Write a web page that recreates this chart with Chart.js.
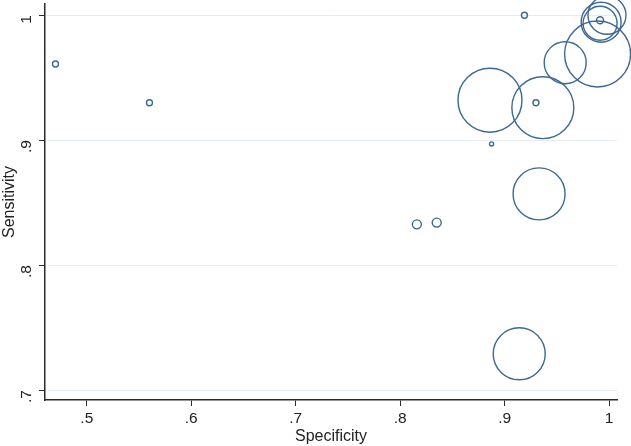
<!DOCTYPE html>
<html>
<head>
<meta charset="utf-8">
<script src="https://cdn.jsdelivr.net/npm/chart.js@4"></script>
<style>
  html, body { margin: 0; padding: 0; background: #fff; }
  #wrap { width: 631px; height: 446px; }
</style>
</head>
<body>
<div id="wrap"><canvas id="bubbles"></canvas></div>
<script>
'use strict';

// specificity / sensitivity per study, weight = study size (drives bubble area)
const specificity = [0.470, 0.560, 0.919, 0.930, 0.8875, 0.816, 0.835, 0.886, 0.9366, 0.958, 0.989, 0.933, 0.914, 0.9914, 0.9924, 0.9914, 0.998];
const sensitivity = [0.961, 0.930, 1.000, 0.930, 0.897, 0.8326, 0.834, 0.932, 0.926, 0.962, 0.969, 0.857, 0.729, 0.996, 0.9944, 0.9936, 1.000];
const weight = [3.5, 3.5, 3.5, 3.5, 1.6, 7.9, 7.9, 400, 375, 172, 425, 264, 264, 4.8, 156, 113, 141];

const xTicks = [0.5, 0.6, 0.7, 0.8, 0.9, 1];
const yTicks = [0.7, 0.8, 0.9, 1];

function stataLabel(v) {
    let s = String(Math.round(v * 10) / 10);
    return s.replace(/^0\./, '.');
}

let points = specificity.map(function(x, i) {
    return { x: x, y: sensitivity[i], w: weight[i] };
});

const navy = '#3b6894';
const axisColor = '#2b2b2b';
const tickFont = { family: "'Liberation Sans', Arial, sans-serif", size: 15.5 };
const titleFont = { family: "'Liberation Sans', Arial, sans-serif", size: 16 };

new Chart(document.getElementById('bubbles'), {
    type: 'bubble',
    data: {
        datasets: [{
            data: points,
            backgroundColor: 'rgba(0,0,0,0)',
            borderColor: navy,
            borderWidth: 1.4,
            clip: false,
            radius: function(ctx) {
                let p = ctx.raw;
                return p ? 1.6 * Math.sqrt(p.w) : 0;
            },
            hoverRadius: 0
        }]
    },
    options: {
        responsive: true,
        maintainAspectRatio: false,
        animation: false,
        events: [],
        layout: { autoPadding: false, padding: { top: 4, right: 14, left: 0, bottom: 0 } },
        plugins: { legend: { display: false }, tooltip: { enabled: false } },
        scales: {
            x: {
                type: 'linear',
                min: 0.46,
                max: 1.0076,
                afterBuildTicks: function(scale) {
                    scale.ticks = xTicks.map(function(v) { return { value: v }; });
                },
                afterFit: function(scale) {
                    scale.height = 46;
                    scale.paddingLeft = 0;
                    scale.paddingRight = 0;
                },
                grid: { drawOnChartArea: false, drawTicks: true, tickLength: 6, color: axisColor, lineWidth: 1 },
                border: { display: true, color: axisColor, width: 1.5 },
                ticks: {
                    color: '#222',
                    font: tickFont,
                    padding: 3,
                    maxRotation: 0,
                    autoSkip: false,
                    callback: function(v) { return stataLabel(v); }
                },
                title: {
                    display: true,
                    text: 'Specificity',
                    color: '#222',
                    font: titleFont,
                    padding: { top: -2, bottom: 0 }
                }
            },
            y: {
                type: 'linear',
                min: 0.692,
                max: 1.009,
                afterBuildTicks: function(scale) {
                    scale.ticks = yTicks.map(function(v) { return { value: v }; });
                },
                afterFit: function(scale) {
                    scale.width = 45;
                    scale.paddingTop = 0;
                    scale.paddingBottom = 0;
                },
                grid: {
                    drawOnChartArea: true,
                    drawTicks: true,
                    tickLength: 6,
                    color: '#e4edf1',
                    tickColor: axisColor,
                    lineWidth: 1
                },
                border: { display: true, color: axisColor, width: 1.5 },
                ticks: {
                    color: '#222',
                    font: tickFont,
                    padding: 12,
                    minRotation: 90,
                    maxRotation: 90,
                    autoSkip: false,
                    callback: function(v) { return stataLabel(v); }
                },
                title: {
                    display: true,
                    text: 'Sensitivity',
                    color: '#222',
                    font: titleFont,
                    padding: { top: 0, bottom: 0 }
                }
            }
        }
    }
});
</script>
</body>
</html>
